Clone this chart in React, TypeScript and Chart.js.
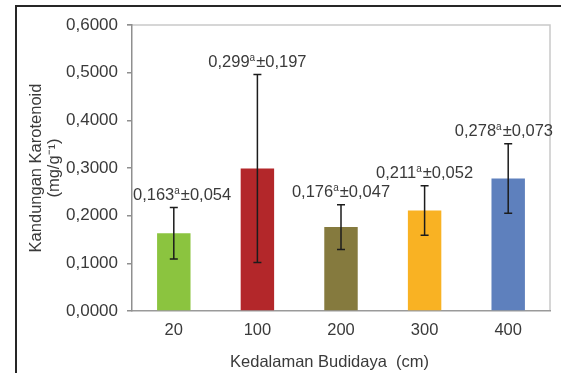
import React, { useEffect, useRef } from "react";
import { Chart, registerables } from "chart.js";

Chart.register(...registerables);

// Carotenoid content by cultivation depth (mean ± SD)
const depths = ["20", "100", "200", "300", "400"];
const carotenoid = [0.163, 0.299, 0.176, 0.211, 0.278];
const stdDev = [0.054, 0.197, 0.047, 0.052, 0.073];
const groupLetters = ["a", "a", "a", "a", "a"];
const barColors = ["#8bc43f", "#b3272a", "#857a3e", "#f9b223", "#5e80bd"];

const yMin = 0;
const yMax = 0.6;
const yStep = 0.1;

const FONT = "'Liberation Sans', Arial, sans-serif";
const TEXT = "#3a3a3a";

const fmt = (v: number, d: number) => v.toFixed(d).replace(".", ",");

const overlay = {
  id: "overlay",
  beforeDraw(chart: any) {
    const { ctx, width, height, chartArea: a } = chart;
    ctx.save();
    ctx.fillStyle = "#ffffff";
    ctx.fillRect(0, 0, width, height);
    // outer frame (left and top edges)
    ctx.strokeStyle = "#262626";
    ctx.lineWidth = 2;
    ctx.beginPath();
    ctx.moveTo(16, height);
    ctx.lineTo(16, 6);
    ctx.lineTo(width, 6);
    ctx.stroke();
    // plot box top and right edges
    ctx.strokeStyle = "#c9c9c9";
    ctx.lineWidth = 1.5;
    ctx.beginPath();
    ctx.moveTo(a.left - 5, a.top);
    ctx.lineTo(a.right, a.top);
    ctx.lineTo(a.right, a.bottom);
    ctx.stroke();
    ctx.restore();
  },
  afterDatasetsDraw(chart: any) {
    const { ctx, chartArea: a } = chart;
    const xs = chart.scales.x;
    const ys = chart.scales.y;
    ctx.save();
    // error bars
    ctx.strokeStyle = "#1c1c1c";
    ctx.lineWidth = 1.5;
    carotenoid.forEach((v, i) => {
      const x = xs.getPixelForValue(i);
      const yt = ys.getPixelForValue(v + stdDev[i]);
      const yb = ys.getPixelForValue(v - stdDev[i]);
      ctx.beginPath();
      ctx.moveTo(x, yt);
      ctx.lineTo(x, yb);
      ctx.moveTo(x - 4, yt);
      ctx.lineTo(x + 4, yt);
      ctx.moveTo(x - 4, yb);
      ctx.lineTo(x + 4, yb);
      ctx.stroke();
    });
    // value labels: mean, superscript group letter, ± SD
    const main = `16.5px ${FONT}`;
    const sup = `10px ${FONT}`;
    ctx.fillStyle = TEXT;
    ctx.textBaseline = "middle";
    ctx.textAlign = "left";
    carotenoid.forEach((v, i) => {
      const s1 = fmt(v, 3);
      const s2 = groupLetters[i];
      const s3 = "±" + fmt(stdDev[i], 3);
      ctx.font = main;
      const w1 = ctx.measureText(s1).width;
      const w3 = ctx.measureText(s3).width;
      ctx.font = sup;
      const w2 = ctx.measureText(s2).width + 1;
      const total = w1 + w2 + w3;
      const cx = xs.getPixelForValue(i);
      let left = cx - total / 2;
      if (left < a.left + 1) left = a.left + 1;
      if (left + total > a.right + 3) left = a.right + 3 - total;
      const y = ys.getPixelForValue(v + stdDev[i]) - 12;
      ctx.font = main;
      ctx.fillText(s1, left, y);
      ctx.font = sup;
      ctx.fillText(s2, left + w1, y - 4);
      ctx.font = main;
      ctx.fillText(s3, left + w1 + w2, y);
    });
    ctx.restore();
  },
};

export default function App() {
  const ref = useRef<HTMLCanvasElement | null>(null);

  useEffect(() => {
    if (!ref.current) return;
    const chart = new Chart(ref.current, {
      type: "bar",
      data: {
        labels: depths,
        datasets: [
          {
            data: carotenoid,
            backgroundColor: barColors,
            borderWidth: 0,
            barPercentage: 0.4,
            categoryPercentage: 1.0,
          },
        ],
      },
      options: {
        responsive: false,
        animation: false,
        layout: { padding: { top: 25, right: 11, left: 0, bottom: 0 } },
        plugins: {
          legend: { display: false },
          tooltip: { enabled: false },
        },
        scales: {
          x: {
            grid: { display: false, drawTicks: false },
            border: { display: true, color: "#9a9a9a", width: 1.5 },
            ticks: {
              color: TEXT,
              font: { family: FONT, size: 16.5 },
              padding: 10,
            },
            title: {
              display: true,
              text: "Kedalaman Budidaya  (cm)     ",
              color: TEXT,
              font: { family: FONT, size: 16.5 },
              padding: { top: 0, bottom: 1 },
            },
            afterFit(scale: any) {
              scale.height = 62;
            },
          },
          y: {
            min: yMin,
            max: yMax,
            grid: {
              drawOnChartArea: false,
              drawTicks: true,
              tickLength: 5,
              color: "#8f8f8f",
              lineWidth: 1.5,
            },
            border: { display: true, color: "#8f8f8f", width: 1.5 },
            ticks: {
              stepSize: yStep,
              color: TEXT,
              font: { family: FONT, size: 17 },
              padding: 9,
              callback: (v: any) => fmt(Number(v), 4),
            },
            title: {
              display: true,
              text: ["Kandungan Karotenoid", "(mg/g⁻¹)"],
              color: TEXT,
              font: { family: FONT, size: 16.5, lineHeight: 1.1 },
              padding: { top: 27, bottom: 0 },
            },
            afterFit(scale: any) {
              scale.width = 132;
            },
          },
        },
      },
      plugins: [overlay],
    });
    return () => chart.destroy();
  }, []);

  return (
    <div style={{ position: "absolute", left: 0, top: 0, width: 561, height: 373 }}>
      <canvas ref={ref} width={561} height={373} style={{ display: "block" }} />
    </div>
  );
}
